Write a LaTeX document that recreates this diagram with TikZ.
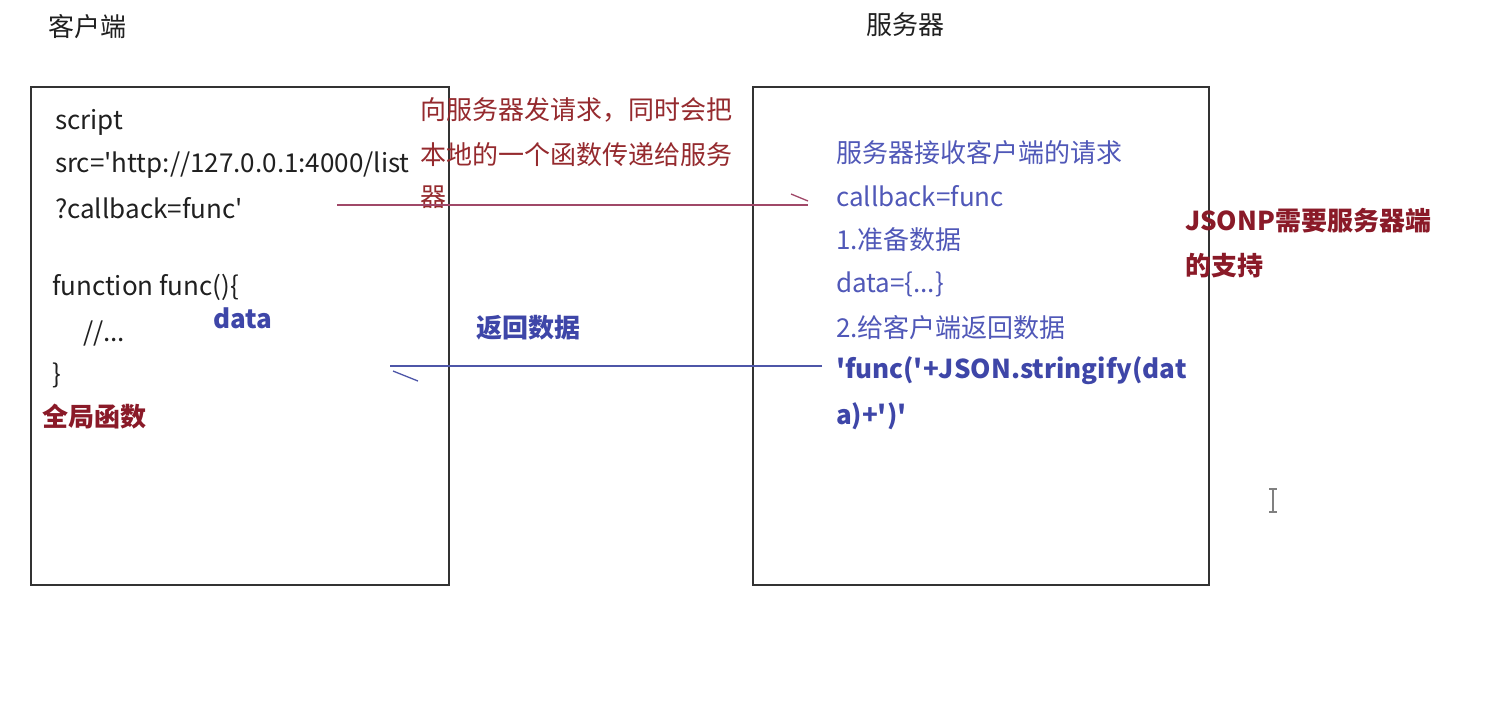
\documentclass[tikz,border=0pt]{standalone}
\usepackage{fontspec}
\newfontfamily\cjkfont{Noto Sans CJK SC}
\usetikzlibrary{calc}
\definecolor{boxgray}{HTML}{333333}
\definecolor{txtblue}{HTML}{5058B8}
\definecolor{boldblue}{HTML}{3E46A8}
\definecolor{txtred}{HTML}{952A2E}
\definecolor{boldred}{HTML}{8A1A28}
\definecolor{linered}{HTML}{A04868}
\definecolor{lineblue}{HTML}{4E56A8}
\definecolor{txtblack}{HTML}{202020}
\begin{document}
\begin{tikzpicture}[x=1pt,y=-1pt,
  txt/.style={inner sep=0pt, outer sep=0pt, anchor=west, font=\cjkfont\fontsize{26}{31}\selectfont, text=txtblack},
  bluetxt/.style={txt, text=txtblue},
  bluebold/.style={txt, text=boldblue, font=\cjkfont\fontsize{26}{31}\selectfont\bfseries},
  redtxt/.style={txt, text=txtred},
  redbold/.style={txt, text=boldred, font=\cjkfont\fontsize{26}{31}\selectfont\bfseries},
  box/.style={draw=boxgray, line width=1.5pt, inner sep=0pt, anchor=center},
  redline/.style={draw=linered, line width=1.3pt},
  blueline/.style={draw=lineblue, line width=1.3pt}]
\fill[white] (0,0) rectangle (1489,726);
\useasboundingbox (0,0) rectangle (1489,726);

% boxes
\node[box, minimum width=418pt, minimum height=498pt] (client) at (240,336) {};
\node[box, minimum width=456pt, minimum height=498pt] (server) at (981,336) {};

% titles
\node[txt] (t1) at (48,27) {客户端};
\node[txt] (t2) at (866,25) {服务器};

% client text
\node[txt] (c1) at (55,122) {script};
\node[txt] (c2) at (55,165) {src='http://127.0.0.1:4000/list};
\node[txt] (c3) at (55,208) {?callback=func'};
\node[txt] (c4) at (52,287) {function func()\{};
\node[txt] (c5) at (83,333) {//...};
\node[txt] (c6) at (52,375) {\}};
\node[redbold] (c7) at (42,417) {全局函数};
\node[bluebold] (c8) at (213,318) {data};

% request text
\node[redtxt] (r1) at (420,110) {向服务器发请求，同时会把};
\node[redtxt] (r2) at (420,155) {本地的一个函数传递给服务};
\node[redtxt] (r3) at (420,197) {器};

\node[bluebold] (back) at (476,328) {返回数据};

% server text
\node[bluetxt] (s1) at (836,153) {服务器接收客户端的请求};
\node[bluetxt] (s2) at (836,196) {callback=func};
\node[bluetxt] (s3) at (836,240) {1.准备数据};
\node[bluetxt] (s4) at (836,284) {data=\{...\}};
\node[bluetxt] (s5) at (836,328) {2.给客户端返回数据};
\node[bluebold] (s6) at (836,371) {'func('+JSON.stringify(dat};
\node[bluebold] (s7) at (836,416) {a)+')'};

\node[redbold] (j1) at (1185,221) {JSONP需要服务器端};
\node[redbold] (j2) at (1185,266) {的支持};

% request arrow
\coordinate (ra) at (337,205);
\coordinate (rb) at (808,205);
\coordinate (rc) at (791,194);
\coordinate (rd) at (808,201);
\draw[redline] (ra) -- (rb);
\draw[redline] (rc) -- (rd);

% response arrow
\coordinate (ba) at (822,366);
\coordinate (bb) at (390,366);
\coordinate (bc) at (393,371);
\coordinate (bd) at (418,381);
\draw[blueline] (ba) -- (bb);
\draw[blueline] (bc) -- (bd);

% cursor
\coordinate (k1) at (1273,489);
\coordinate (k2) at (1273,512);
\coordinate (k1l) at (1269,489);
\coordinate (k1r) at (1277,489);
\coordinate (k2l) at (1269,512);
\coordinate (k2r) at (1277,512);
\draw[gray, line width=1.5pt] (k1) -- (k2);
\draw[gray, line width=1.2pt] (k1l) -- (k1r);
\draw[gray, line width=1.2pt] (k2l) -- (k2r);
\end{tikzpicture}
\end{document}
